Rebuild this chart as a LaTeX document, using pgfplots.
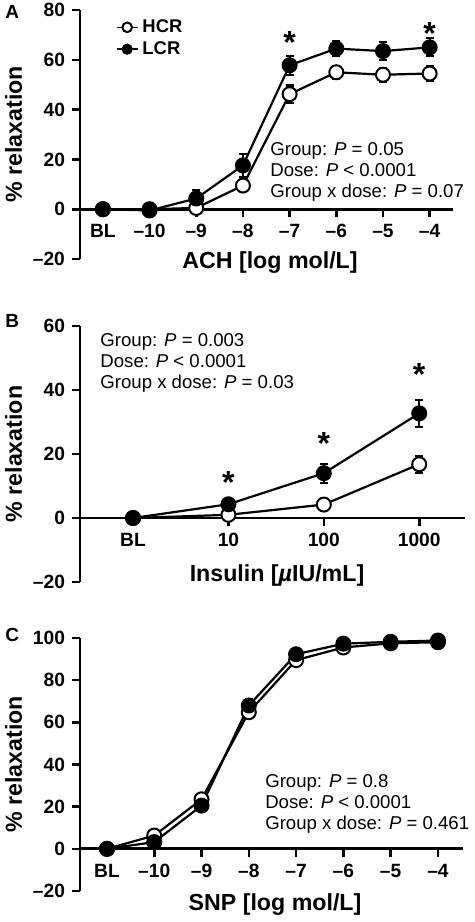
\documentclass[border=0pt]{standalone}
\usepackage{pgfplots}
\pgfplotsset{compat=1.18}
\usepackage{fontspec}
\setmainfont{Liberation Sans}
\tikzset{
  star/.style={font=\fontsize{16}{17}\selectfont\bfseries, inner sep=0pt, anchor=north},
  ptext/.style={font=\fontsize{9.3}{10.6}\selectfont, align=left, inner sep=0pt, anchor=north west},
  plabel/.style={font=\fontsize{9.5}{11}\selectfont\bfseries, anchor=north west, inner sep=0pt},
}
\begin{document}
\begin{tikzpicture}
\useasboundingbox (0,0) rectangle (237.5pt,-461pt);
\pgfplotsset{
  panel/.style={
    scale only axis, anchor=south west, clip=false,
    axis x line=middle, axis y line=left,
    axis line style={-, line width=1.4pt},
    tick align=outside, major tick length=4pt,
    tick style={line width=1.3pt, black},
    xticklabel style={font=\fontsize{9.6}{11}\selectfont\bfseries},
    yticklabel style={font=\fontsize{9.6}{11}\selectfont\bfseries},
    ylabel={\% relaxation},
    every axis y label/.style={at={([xshift=-33.25pt]axis description cs:0,0.5)}, rotate=90, anchor=center, font=\fontsize{11.6}{13}\selectfont\bfseries},
  },
  hcr/.style={black, line width=1.1pt, mark=*, mark size=3.5pt,
    mark options={solid, fill=white, draw=black, line width=1pt},
    /pgfplots/error bars/y dir=both, /pgfplots/error bars/y explicit,
    /pgfplots/error bars/error bar style={line width=1.1pt, black},
    /pgfplots/error bars/error mark options={rotate=90, mark size=2pt, line width=1.1pt, black}},
  lcr/.style={black, line width=1.1pt, mark=*, mark size=3.6pt,
    mark options={solid, fill=black, draw=black, line width=0.8pt},
    /pgfplots/error bars/y dir=both, /pgfplots/error bars/y explicit,
    /pgfplots/error bars/error bar style={line width=1.1pt, black},
    /pgfplots/error bars/error mark options={rotate=90, mark size=2pt, line width=1.1pt, black}},
  xlab/.style={every axis x label/.style={at={([xshift=#1]axis description cs:0.5,0)}, anchor=center, font=\fontsize{11.6}{13}\selectfont\bfseries}},
}
% ---------------- Panel A ----------------
\begin{axis}[panel,
  at={(40pt,-129.5pt)}, width=186.5pt, height=124.5pt,
  xmin=-0.49, xmax=7.5, ymin=-20, ymax=80,
  ytick={-20,0,20,40,60,80},
  yticklabels={\textbf{\textendash20},\textbf{0},\textbf{20},\textbf{40},\textbf{60},\textbf{80}},
  xtick={0,1,2,3,4,5,6,7},
  xticklabels={BL,\textendash10,\textendash9,\textendash8,\textendash7,\textendash6,\textendash5,\textendash4},
  xlabel={ACH [log mol/L]},
  xlab={1.75pt,yshift=-2pt},
  legend style={draw=none, fill=none, inner sep=0pt, at={(axis cs:0.27,78)}, anchor=north west,
    font=\fontsize{9.2}{10}\selectfont\bfseries, row sep=-1pt,
    legend cell align=left},
  legend image code/.code={\draw[#1, line width=0.8pt] (0pt,0pt) -- (10.5pt,0pt); \draw[#1, mark size=2.4pt] plot coordinates {(5.25pt,0pt)};},
]
\addplot+[hcr] coordinates {
 (0,0) +- (0,0)
 (1,0) +- (0,0)
 (2,0.5) +- (0,1.5)
 (3,9.5) +- (0,2)
 (4,46.2) +- (0,3.5)
 (5,55) +- (0,2.5)
 (6,54) +- (0,2.8)
 (7,54.5) +- (0,3)
};
\addlegendentry{HCR}
\addplot+[lcr] coordinates {
 (0,0) +- (0,0)
 (1,-0.5) +- (0,0.5)
 (2,4.3) +- (0,3.5)
 (3,17.6) +- (0,4.6)
 (4,57.8) +- (0,3.8)
 (5,64.5) +- (0,3)
 (6,63.5) +- (0,3.5)
 (7,65) +- (0,3.6)
};
\addlegendentry{LCR}
\node[star] at (axis cs:4,71.6) {*};
\node[star] at (axis cs:7,75.2) {*};
\node[ptext] at (axis cs:3.58,27) {Group: \textit{P} = 0.05\\Dose: \textit{P} {<} 0.0001\\Group x dose: \textit{P} = 0.07};
\end{axis}
\node[plabel] at (2.5pt,-2.5pt) {A};
% ---------------- Panel B ----------------
\begin{axis}[panel,
  at={(40pt,-291pt)}, width=192.5pt, height=128pt,
  xmin=-0.556, xmax=3.48, ymin=-20, ymax=60,
  ytick={-20,0,20,40,60},
  yticklabels={\textbf{\textendash20},\textbf{0},\textbf{20},\textbf{40},\textbf{60}},
  xtick={0,1,2,3},
  xticklabels={BL,10,100,1000},
  xlabel={Insulin [\textit{µ}IU/mL]},
  xlab={2.25pt,yshift=3.5pt},
]
\addplot+[hcr] coordinates {
 (0,0) +- (0,0)
 (1,1) +- (0,1)
 (2,4.2) +- (0,0.8)
 (3,16.8) +- (0,2.7)
};
\addplot+[lcr] coordinates {
 (0,0) +- (0,0)
 (1,4.3) +- (0,1)
 (2,14) +- (0,3)
 (3,32.7) +- (0,4.3)
};
\node[star] at (axis cs:1,14.8) {*};
\node[star] at (axis cs:2,27) {*};
\node[star] at (axis cs:3,48.4) {*};
\node[ptext] at (axis cs:-0.346,57.8) {Group: \textit{P} = 0.003\\Dose: \textit{P} {<} 0.0001\\Group x dose: \textit{P} = 0.03};
\end{axis}
\node[plabel] at (2.5pt,-157pt) {B};
% ---------------- Panel C ----------------
\begin{axis}[panel,
  at={(40pt,-445.5pt)}, width=191.5pt, height=126.5pt,
  xmin=-0.57, xmax=7.53, ymin=-20, ymax=100,
  ytick={-20,0,20,40,60,80,100},
  yticklabels={\textbf{\textendash20},\textbf{0},\textbf{20},\textbf{40},\textbf{60},\textbf{80},\textbf{100}},
  xtick={0,1,2,3,4,5,6,7},
  xticklabels={BL,\textendash10,\textendash9,\textendash8,\textendash7,\textendash6,\textendash5,\textendash4},
  xlabel={SNP [log mol/L]},
  xlab={1.75pt,yshift=-7pt},
]
\addplot+[hcr] coordinates {
 (0,0) +- (0,0)
 (1,6.3) +- (0,1.5)
 (2,23.5) +- (0,2)
 (3,64.8) +- (0,2.5)
 (4,89.5) +- (0,1.5)
 (5,95.5) +- (0,1)
 (6,97.5) +- (0,1)
 (7,98) +- (0,1)
};
\addplot+[lcr] coordinates {
 (0,0) +- (0,0)
 (1,3.2) +- (0,1)
 (2,20.5) +- (0,2)
 (3,68) +- (0,3)
 (4,92.3) +- (0,1.5)
 (5,97.3) +- (0,1)
 (6,98.2) +- (0,1)
 (7,98.8) +- (0,1)
};
\node[ptext] at (axis cs:3.34,35.6) {Group: \textit{P} = 0.8\\Dose: \textit{P} {<} 0.0001\\Group x dose: \textit{P} = 0.461};
\end{axis}
\node[plabel] at (2.5pt,-314pt) {C};
\end{tikzpicture}
\end{document}
